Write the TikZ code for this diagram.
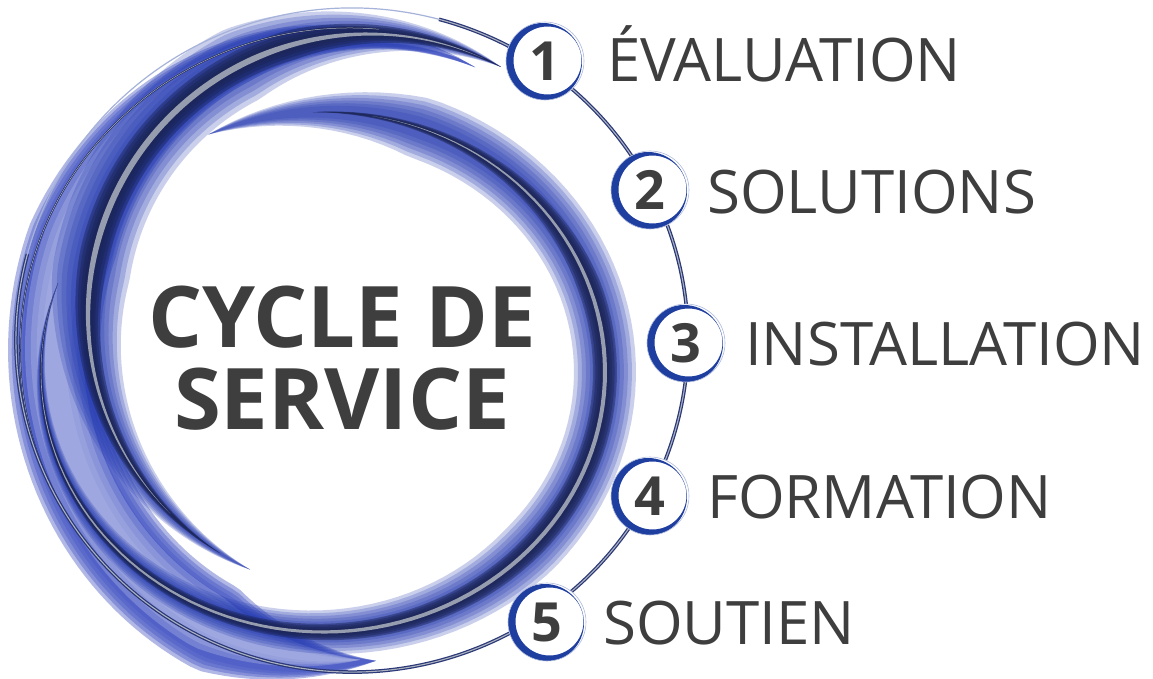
\documentclass[tikz,border=0pt]{standalone}
\usepackage{fontspec}
\setmainfont{Open Sans}
\definecolor{ringblue}{RGB}{30,62,160}
\definecolor{navyc}{RGB}{26,36,84}
\definecolor{midblue}{RGB}{36,58,176}
\definecolor{lavc}{RGB}{170,178,228}
\definecolor{baseblue}{RGB}{70,88,196}
\definecolor{hlc}{RGB}{172,178,190}
\definecolor{orbc}{RGB}{42,56,120}
\definecolor{txtc}{RGB}{62,62,62}
% band: cx cy rx ry theta0 theta1 width taperin taperout
\newcommand\band[9]{%
  \fill plot[domain=0:1, samples=110, variable=\t]
    ({#1+(#3+0.5*(#7)*min(1,\t/#8,(1-\t)/#9))*cos(#5+((#6)-(#5))*\t)},
     {#2+(#4+0.5*(#7)*min(1,\t/#8,(1-\t)/#9))*sin(#5+((#6)-(#5))*\t)})
  -- plot[domain=1:0, samples=110, variable=\t]
    ({#1+(#3-0.5*(#7)*min(1,\t/#8,(1-\t)/#9))*cos(#5+((#6)-(#5))*\t)},
     {#2+(#4-0.5*(#7)*min(1,\t/#8,(1-\t)/#9))*sin(#5+((#6)-(#5))*\t)}) -- cycle;}
\begin{document}
\begin{tikzpicture}[x=1pt,y=-1pt,
  numc/.style={circle, minimum size=78pt, inner sep=0pt, fill=white, draw=ringblue!35, line width=0.6pt,
    text=txtc, font=\bfseries\fontsize{54}{54}\selectfont,
    path picture={\fill[ringblue, even odd rule]
      ([xshift=-2pt,yshift=-1pt]path picture bounding box.center) circle[radius=39pt]
      ([xshift=2.5pt,yshift=0.5pt]path picture bounding box.center) circle[radius=34pt];}},
  lbl/.style={anchor=base west, inner sep=0pt, text=txtc, font=\fontsize{60}{60}\selectfont},
  ttl/.style={anchor=base, inner sep=0pt, text=txtc, font=\bfseries\fontsize{85}{85}\selectfont}]
\useasboundingbox (0,0) rectangle (1153,679);
\fill[white] (0,0) rectangle (1153,679);
% outer light band
\foreach \k in {0,...,4}{\begin{scope}[fill=baseblue, fill opacity=0.42]\band{350}{350}{296}{312}{-65}{-275}{92*(1-0.08*\k)}{0.45}{0.15}\end{scope}}
\foreach \k in {0,...,3}{\begin{scope}[fill=lavc, fill opacity=0.4]\band{350}{348}{296}{312}{-68}{-272}{58*(1-0.2*\k)}{0.45}{0.15}\end{scope}}
% lower / right ring
\foreach \k in {0,...,5}{\begin{scope}[fill=midblue, fill opacity=0.24]\band{323}{372}{282}{260}{200}{-114}{62*(1-0.13*\k)}{0.5}{0.14}\end{scope}}
\foreach \k in {0,...,3}{\begin{scope}[fill=navyc, fill opacity=0.45]\band{323}{372}{282}{260}{200}{-92}{24*(1-0.2*\k)}{0.55}{0.25}\end{scope}}
\begin{scope}[fill=hlc, fill opacity=0.85]\band{323}{372}{282}{260}{200}{-80}{4}{0.5}{0.25}\end{scope}
% upper / left ring
\foreach \k in {0,...,5}{\begin{scope}[fill=midblue, fill opacity=0.24]\band{369}{315}{281}{281}{-62}{-245}{78*(1-0.13*\k)}{0.3}{0.4}\end{scope}}
\foreach \k in {0,...,3}{\begin{scope}[fill=navyc, fill opacity=0.45]\band{369}{315}{281}{281}{-62}{-238}{30*(1-0.2*\k)}{0.25}{0.4}\end{scope}}
\begin{scope}[fill=hlc, fill opacity=0.85]\band{369}{315}{281}{281}{-66}{-225}{6}{0.3}{0.4}\end{scope}
% edge line of band
\draw[navyc, line width=1.6pt] (350,350) ++(-85:330 and 322) arc[start angle=-85, end angle=-255, x radius=330, y radius=322];
\draw[hlc, line width=0.5pt] (350,350) ++(-85:330 and 322) arc[start angle=-85, end angle=-255, x radius=330, y radius=322];
% orbit
\draw[orbc, line width=3.6pt] (352,340) ++(-75:336 and 332) arc[start angle=-75, end angle=195, x radius=336, y radius=332];
\draw[hlc, line width=1.1pt] (352,340) ++(-75:336 and 332) arc[start angle=-75, end angle=195, x radius=336, y radius=332];
\draw[ringblue!40, line width=1.2pt] (352,340) ++(195:336 and 332) arc[start angle=195, end angle=285, x radius=336, y radius=332];
% numbered circles
\node[numc] (n1) at (545,61) {1};
\node[numc] (n2) at (650,190) {2};
\node[numc] (n3) at (686,343) {3};
\node[numc] (n4) at (650,496) {4};
\node[numc] (n5) at (547,622) {5};
% labels
\node[lbl] (l1) at (607,82) {ÉVALUATION};
\node[lbl] (l2) at (707,213) {SOLUTIONS};
\node[lbl] (l3) at (745,365) {INSTALLATION};
\node[lbl] (l4) at (707,518) {FORMATION};
\node[lbl] (l5) at (603,644) {SOUTIEN};
% title
\node[ttl] (t1) at (342,347) {CYCLE DE};
\node[ttl] (t2) at (342,429) {SERVICE};
\end{tikzpicture}
\end{document}
